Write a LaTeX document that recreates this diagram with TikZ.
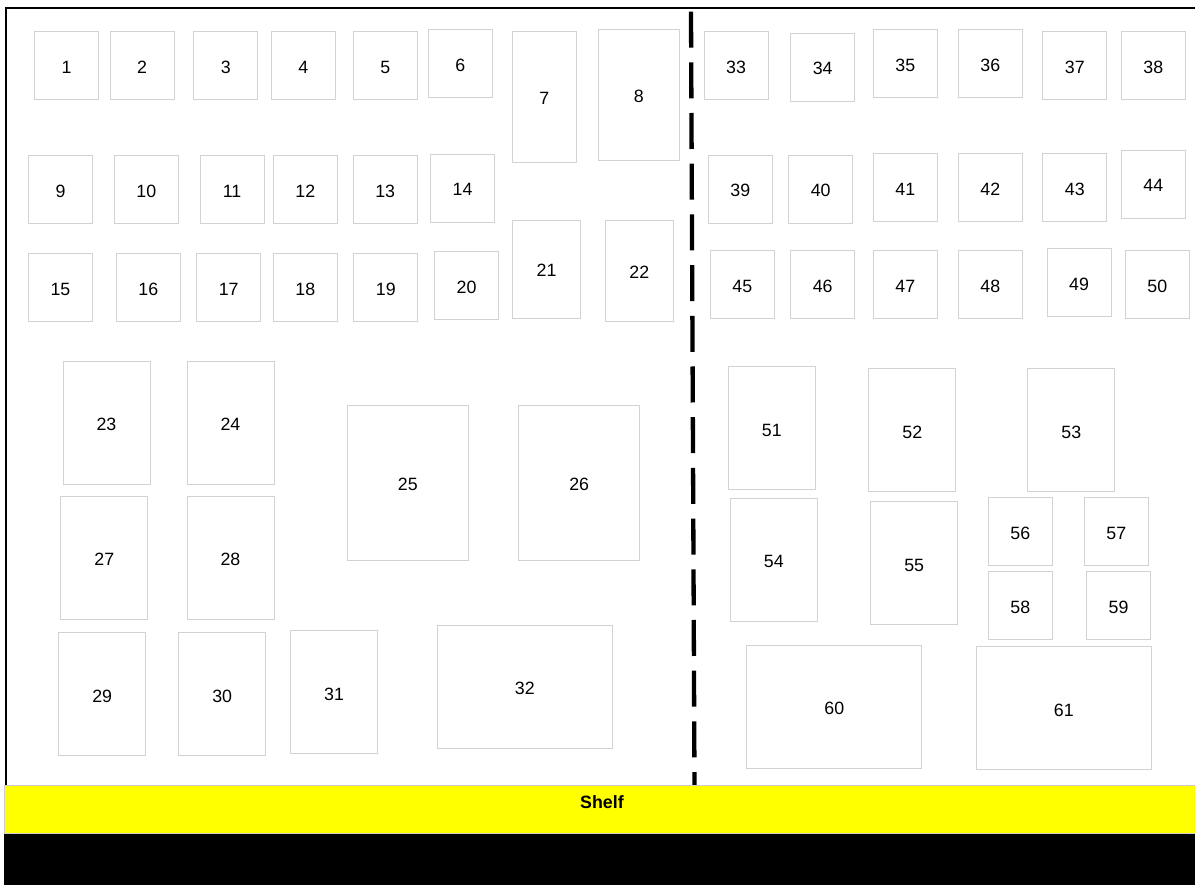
\documentclass[tikz,border=0pt]{standalone}
\usepackage{fontspec}
\setmainfont{Liberation Sans}
\definecolor{shelfyellow}{RGB}{255,255,0}

\begin{document}
\begin{tikzpicture}[x=1pt, y=-1pt,
    bx/.style={rectangle, draw=gray!35, line width=1pt, fill=white,
               inner sep=0pt, text height=15.5pt, text depth=0pt,
               font=\fontsize{17.8}{20}\selectfont},
    sq/.style={bx, minimum width=64pt, minimum height=68pt},
    tall/.style={bx, minimum width=87pt, minimum height=123pt},
    wide/.style={bx, minimum width=175pt, minimum height=123pt}]
    \useasboundingbox (0,0) rectangle (1195,885);

    % Outer frame (open on the right)
    \draw[line width=2.5pt] (6,785) -- (6,8) -- (1196,8);

    % Left half -- row 1
    \node[sq] (b1) at (66.5,65.5) {1};
    \node[sq] (b2) at (142,65.5) {2};
    \node[sq] (b3) at (225.7,65.5) {3};
    \node[sq] (b4) at (303.3,65.5) {4};
    \node[sq] (b5) at (385.2,65.5) {5};
    \node[sq] (b6) at (460.3,63.3) {6};
    \node[bx, minimum width=64pt, minimum height=131pt] (b7) at (544.3,97.2) {7};
    \node[bx, minimum width=81pt, minimum height=131pt] (b8) at (638.7,95) {8};
    % Left half -- row 2
    \node[sq] (b9)  at (60.5,190) {9};
    \node[sq] (b10) at (146.3,190) {10};
    \node[sq] (b11) at (232,190) {11};
    \node[sq] (b12) at (305.3,190) {12};
    \node[sq] (b13) at (385.2,190) {13};
    \node[sq] (b14) at (462.5,188.2) {14};
    % Left half -- row 3
    \node[sq] (b15) at (60.5,287.5) {15};
    \node[sq] (b16) at (148.3,287.5) {16};
    \node[sq] (b17) at (228.7,287.5) {17};
    \node[sq] (b18) at (305.3,287.5) {18};
    \node[sq] (b19) at (385.8,287.5) {19};
    \node[sq] (b20) at (466.5,285.3) {20};
    \node[bx, minimum width=68pt, minimum height=98pt] (b21) at (546.5,269.2) {21};
    \node[bx, minimum width=68pt, minimum height=101pt] (b22) at (639.3,271) {22};
    % Left half -- large boxes
    \node[tall] (b23) at (106.5,423) {23};
    \node[tall] (b24) at (230.5,423) {24};
    \node[bx, minimum width=120.5pt, minimum height=155pt] (b25) at (407.8,483.2) {25};
    \node[bx, minimum width=120.5pt, minimum height=155pt] (b26) at (579.2,483.2) {26};
    \node[tall] (b27) at (104.3,557.7) {27};
    \node[tall] (b28) at (230.5,557.7) {28};
    \node[tall] (b29) at (102.2,694.3) {29};
    \node[tall] (b30) at (222.2,694.3) {30};
    \node[tall] (b31) at (334,692.3) {31};
    \node[wide] (b32) at (524.8,686.7) {32};

    % Right half -- row 1
    \node[sq] (b33) at (736,65.5) {33};
    \node[sq] (b34) at (822.7,67.2) {34};
    \node[sq] (b35) at (905.3,63.5) {35};
    \node[sq] (b36) at (990.3,63.5) {36};
    \node[sq] (b37) at (1074.8,65.5) {37};
    \node[sq] (b38) at (1153.3,65.5) {38};
    % Right half -- row 2
    \node[sq] (b39) at (740.3,189.2) {39};
    \node[sq] (b40) at (820.7,189.2) {40};
    \node[sq] (b41) at (905.3,187.5) {41};
    \node[sq] (b42) at (990.3,187.5) {42};
    \node[sq] (b43) at (1074.8,187.5) {43};
    \node[sq] (b44) at (1153.3,184.2) {44};
    % Right half -- row 3
    \node[sq] (b45) at (742.3,284.3) {45};
    \node[sq] (b46) at (822.7,284.3) {46};
    \node[sq] (b47) at (905.3,284.3) {47};
    \node[sq] (b48) at (990.3,284.3) {48};
    \node[sq] (b49) at (1079,282.7) {49};
    \node[sq] (b50) at (1157.3,284.3) {50};
    % Right half -- large boxes
    \node[tall] (b51) at (771.8,428.3) {51};
    \node[tall] (b52) at (912.3,430.3) {52};
    \node[tall] (b53) at (1071.3,430.3) {53};
    \node[tall] (b54) at (773.8,559.7) {54};
    \node[tall] (b55) at (914.2,563.3) {55};
    \node[sq] (b56) at (1020.3,531.3) {56};
    \node[sq] (b57) at (1116.3,531.3) {57};
    \node[sq] (b58) at (1020.3,605.3) {58};
    \node[sq] (b59) at (1118.5,605.3) {59};
    \node[wide] (b60) at (834.3,706.7) {60};
    \node[wide] (b61) at (1063.8,708.3) {61};

    % Divider between the two halves
    \coordinate (divtop) at (691,11.6);
    \coordinate (divbot) at (694.5,785);
    \draw[line width=4.3pt, dash pattern=on 36pt off 14.7pt] (divtop) -- (divbot);

    % Shelf and floor
    \node[rectangle, draw=gray!40, line width=1pt, fill=shelfyellow,
          minimum width=1193pt, minimum height=48pt, inner sep=0pt] (shelf) at (600.5,809) {};
    \node[font=\fontsize{17.8}{20}\selectfont\bfseries] (shelflbl)
          at ([xshift=1.5pt, yshift=7pt]shelf.center) {Shelf};
    \fill[black] (4,833.5) rectangle (1197,887);
\end{tikzpicture}
\end{document}
